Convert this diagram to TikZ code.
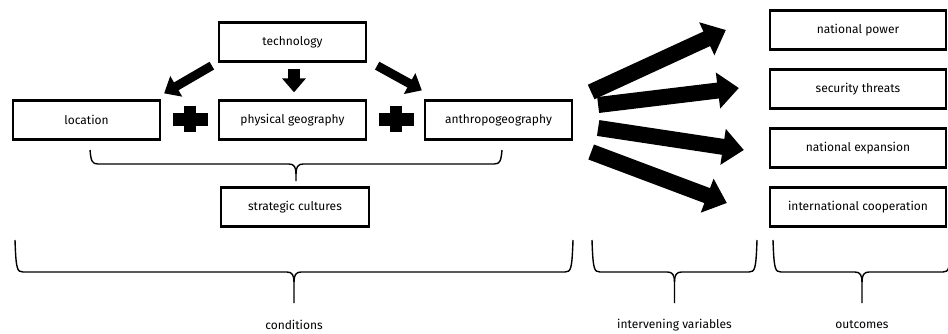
\documentclass[tikz,border=0pt]{standalone}
\usepackage{fontspec}
\setmainfont{Fira Sans}
\usetikzlibrary{arrows.meta}
\usetikzlibrary{positioning}
\usetikzlibrary{calc}

\begin{document}
\begin{tikzpicture}[
	x=1pt, y=-1pt,
	font=\fontsize{12}{14}\selectfont]

\tikzstyle{factor}=[draw, line width=2.3pt, minimum width=147pt, minimum height=39pt, inner sep=0pt]
\tikzstyle{outcome}=[factor, minimum width=176pt]
\tikzstyle{small arrow}=[line width=9pt, -{Triangle[width=23pt,length=14pt]}]
\tikzstyle{big arrow}=[line width=16pt, -{Triangle[width=35pt,length=21pt]}]
\tikzstyle{bracket}=[line width=1.4pt]

% bracket: left, right, top, bar, tip
\def\Bracket#1#2#3#4#5{%
	\pgfmathsetmacro{\Mid}{(#1 + #2) / 2}
	\draw[bracket] (#1,#3) .. controls ({#1+1},{#4-3}) and ({#1+2},#4) .. ({#1+8},#4)
		-- ({\Mid-7},#4) .. controls ({\Mid-2},#4) and (\Mid,{#4+3}) .. (\Mid,{#4+10})
		-- (\Mid,#5);
	\draw[bracket] (#2,#3) .. controls ({#2-1},{#4-3}) and ({#2-2},#4) .. ({#2-8},#4)
		-- ({\Mid+7},#4) .. controls ({\Mid+2},#4) and (\Mid,{#4+3}) .. (\Mid,{#4+10});
}

\useasboundingbox (0,0) rectangle (948,333);

% conditions
\node[factor] (technology) at (292.5,42) {technology};
\node[factor] (location) at (86.5,120) {location};
\node[factor] (physical) at (292.5,120) {physical geography};
\node[factor] (anthropo) at (498.5,120) {anthropogeography};
\node[factor, minimum width=148pt] (strategic) at (295,207) {strategic cultures};

% outcomes
\node[outcome] (power) at (858,30) {national power};
\node[outcome] (threats) at (858,89) {security threats};
\node[outcome] (expansion) at (858,148) {national expansion};
\node[outcome] (cooperation) at (858,207) {international cooperation};

% plus signs
\foreach \p/\px in {plusA/190, plusB/396} {
	\coordinate (\p) at (\px,119);
	\fill ($(\p)+(-17.5,-6.5)$) rectangle ($(\p)+(17.5,6.5)$);
	\fill ($(\p)+(-6,-13)$) rectangle ($(\p)+(6,13)$);
}

% technology arrows
\draw[small arrow] ([shift={(-6,3)}]technology.south west) -- ([shift={(3,-6)}]location.north east);
\draw[small arrow, line width=12pt] ([shift={(1.5,6)}]technology.south) -- ([shift={(1.5,-7)}]physical.north);
\draw[small arrow] ([shift={(10,3)}]technology.south east) -- ([shift={(-2,-9)}]anthropo.north west);

% arrows to outcomes
\draw[big arrow] ([shift={(18,-28)}]anthropo.east) -- ([shift={(-43,0)}]power.west);
\draw[big arrow] ([shift={(25,-15)}]anthropo.east) -- ([shift={(-30,-1)}]threats.west);
\draw[big arrow] ([shift={(25,8)}]anthropo.east) -- ([shift={(-25,2)}]expansion.west);
\draw[big arrow] ([shift={(18,32)}]anthropo.east) -- ([shift={(-42,-4)}]cooperation.west);

% brackets
\Bracket{90}{502}{150}{164}{181}
\Bracket{15}{573}{240}{272}{303}
\Bracket{592}{757}{240}{272}{303}
\Bracket{773}{951}{240}{272}{303}

\node (conditions) at (294,325) {conditions};
\node (intervening) at (674.5,325) {intervening variables};
\node (outcomes) at (862,325) {outcomes};

\end{tikzpicture}
\end{document}
